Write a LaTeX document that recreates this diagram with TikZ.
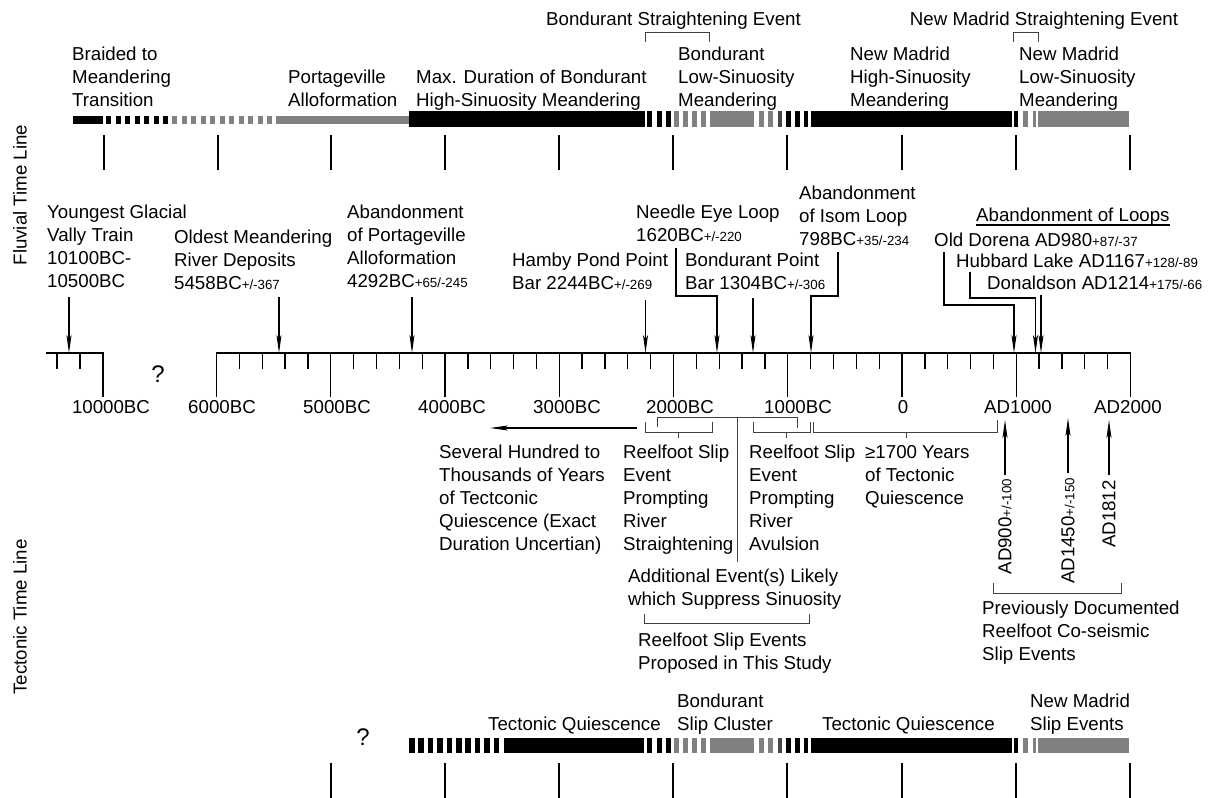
\documentclass[tikz,border=0pt]{standalone}
\usepackage{fontspec}
\setmainfont{Liberation Sans}
\usetikzlibrary{arrows.meta}
\newcommand{\smt}[1]{{\fontsize{13.3}{16}\selectfont #1}}
\newcommand{\ts}{\rule{0pt}{16.1pt}}
\definecolor{bargray}{RGB}{128,128,128}
\definecolor{midgray}{RGB}{70,70,70}
\begin{document}
\begin{tikzpicture}[x=1pt,y=-1pt,
 lbl/.style={anchor=north west,inner sep=0pt,align=left,font=\fontsize{18.7}{23}\selectfont},
 one/.style={anchor=base west,inner sep=0pt,font=\fontsize{18.7}{23}\selectfont},
 axl/.style={anchor=base,inner sep=0pt,font=\fontsize{18.7}{23}\selectfont},
 tick/.style={line width=1.3pt},
 brk/.style={line width=1pt,draw=black!75},
 arr/.style={line width=1.1pt,-{Stealth[length=18pt,width=5pt,inset=4pt]}},
 con/.style={line width=1.1pt},
 qm/.style={inner sep=0pt,font=\fontsize{24}{28}\selectfont},
 side/.style={rotate=90,inner sep=0pt,font=\fontsize{18.7}{23}\selectfont},
 vlab/.style={rotate=90,anchor=east,inner sep=0pt,font=\fontsize{18.7}{23}\selectfont}]
\useasboundingbox (0,0) rectangle (1227,798);

% ---------- side labels
\node[side] (fluv) at (20,195) {Fluvial Time Line};
\node[side] (tect) at (20,617) {Tectonic Time Line};

% ---------- top fluvial bar
\fill (73,116) rectangle (103,124);
\foreach \i in {0,...,6} \fill (106+9.5*\i,116) rectangle ++(5,8);
\foreach \i in {0,...,10} \fill[bargray] (172+9.5*\i,116) rectangle ++(5,8);
\fill[bargray] (276,116) rectangle (409,124);
\fill (409,111) rectangle (645,127);
\foreach \a/\b/\c in {647/652/black,656.5/661.5/black,666/671/black,
  674/678.5/bargray,683/687.5/bargray,692/696.5/bargray,701/705.5/bargray,
  710/754/bargray,759/763.5/bargray,768/772.5/bargray,777.5/782/midgray,
  786/790.5/black,795/799.5/black,803.5/808/black,811/1012/black,1013.5/1018/black,
  1023/1027.5/bargray,1032.5/1035.5/bargray,1038/1129/bargray}
  \fill[\c] (\a,111) rectangle (\b,127);
\foreach \x in {104,218,331,445,559,673,787,902,1016,1130} \draw[tick] (\x,135) -- (\x,170);

% top labels
\node[lbl] (braided) at (72,43.9) {\ts Braided to\\Meandering\\Transition};
\node[lbl] (portage) at (288,66.9) {\ts Portageville\\Alloformation};
\node[lbl] (maxdur) at (416,66.9) {\ts Max. Duration of Bondurant\\High-Sinuosity Meandering};
\node[lbl] (bondlow) at (678,43.9) {\ts Bondurant\\Low-Sinuosity\\Meandering};
\node[lbl] (nmhigh) at (850,43.9) {\ts New Madrid\\High-Sinuosity\\Meandering};
\node[lbl] (nmlow) at (1019,43.9) {\ts New Madrid\\Low-Sinuosity\\Meandering};
\node[axl] (bse) at (673.5,25) {Bondurant Straightening Event};
\node[axl] (nmse) at (1044,25) {New Madrid Straightening Event};
\coordinate (bseL) at (645,42); \coordinate (bseR) at (709,42);
\draw[brk] (bseL) -- ++(0,-10) -| (bseR);
\coordinate (nmseL) at (1013,42); \coordinate (nmseR) at (1038,42);
\draw[brk] (nmseL) -- ++(0,-10) -| (nmseR);

% ---------- main axis
\coordinate (la) at (46,353); \coordinate (lb) at (103,353);
\draw[tick] (la) -- (lb);
\draw[tick] (57,353) -- (57,369);
\draw[tick] (80,353) -- (80,369);
\draw[tick] (103,352.35) -- (103,397);
\node[qm] (q1) at (158,374) {?};
\coordinate (ma) at (216.5,353); \coordinate (mb) at (1130.5,353);
\draw[tick] (ma) -- (mb);
\foreach \k in {1,...,39} \draw[tick] (216.5+22.85*\k,353) -- ++(0,16);
\foreach \k in {0,...,8} \draw[tick] (216.5+114.25*\k,352.35) -- ++(0,44.65);

% axis labels
\node[axl] (t10k) at (111,413) {10000BC};
\node[axl] (t6k) at (222,413) {6000BC};
\node[axl] (t5k) at (337,413) {5000BC};
\node[axl] (t4k) at (452,413) {4000BC};
\node[axl] (t3k) at (567,413) {3000BC};
\node[axl] (t2k) at (680,413) {2000BC};
\node[axl] (t1k) at (798,413) {1000BC};
\node[axl] (t0) at (903,413) {0};
\node[axl] (tad1) at (1018,413) {AD1000};
\node[axl] (tad2) at (1128,413) {AD2000};

% ---------- fluvial annotations
\node[lbl] (ygv) at (47,201.9) {\ts Youngest Glacial\\Vally Train\\10100BC-\\10500BC};
\node[lbl] (omr) at (174,226.9) {\ts Oldest Meandering\\River Deposits\\5458BC\smt{+/-367}};
\node[lbl] (abp) at (347,201.9) {\ts Abandonment\\of Portageville\\Alloformation\\4292BC\smt{+65/-245}};
\node[lbl] (hpp) at (512,249.9) {\ts Hamby Pond Point\\Bar 2244BC\smt{+/-269}};
\node[lbl] (nel) at (636,201.9) {\ts Needle Eye Loop\\1620BC\smt{+/-220}};
\node[lbl] (bpb) at (685,249.9) {\ts Bondurant Point\\Bar 1304BC\smt{+/-306}};
\node[lbl] (ail) at (799,182.9) {\ts Abandonment\\of Isom Loop\\798BC\smt{+35/-234}};
\node[one] (loops) at (976,221) {Abandonment of Loops};
\draw[con] ([yshift=-4pt]loops.base west) -- ([yshift=-4pt]loops.base east);
\node[one] (od) at (934,246) {Old Dorena AD980\smt{+87/-37}};
\node[one] (hl) at (956,267) {Hubbard Lake AD1167\smt{+128/-89}};
\node[one] (dn) at (987,289) {Donaldson AD1214\smt{+175/-66}};

\coordinate (ygvA) at (69,297); \coordinate (ygvB) at (69,353);
\draw[arr] (ygvA) -- (ygvB);
\coordinate (omrA) at (279,297); \coordinate (omrB) at (279,353);
\draw[arr] (omrA) -- (omrB);
\coordinate (abpA) at (412,297); \coordinate (abpB) at (412,353);
\draw[arr] (abpA) -- (abpB);
\coordinate (hppA) at (645.5,300); \coordinate (hppB) at (645.5,353);
\draw[arr] (hppA) -- (hppB);
\coordinate (nelA) at (676,248); \coordinate (nelB) at (717,353);
\draw[arr] (nelA) -- (676,296) -| (nelB);
\coordinate (bpbA) at (753,298); \coordinate (bpbB) at (753,353);
\draw[arr] (bpbA) -- (bpbB);
\coordinate (ailA) at (838,252); \coordinate (ailB) at (811,353);
\draw[arr] (ailA) -- (838,296) -| (ailB);
\coordinate (odA) at (944,252); \coordinate (odB) at (1014,353);
\draw[arr] (odA) -- (944,305) -| (odB);
\coordinate (hlA) at (970,272); \coordinate (hlB) at (1035.5,353);
\draw[arr] (hlA) -- (970,298) -| (hlB);
\coordinate (dnA) at (1041,295); \coordinate (dnB) at (1041,353);
\draw[arr] (dnA) -- (dnB);

% ---------- tectonic annotations
\node[lbl] (shq) at (439,441.9) {\ts Several Hundred to\\Thousands of Years\\of Tectconic\\Quiescence (Exact\\Duration Uncertian)};
\node[lbl] (rfs1) at (623,441.9) {\ts Reelfoot Slip\\Event\\Prompting\\River\\Straightening};
\node[lbl] (rfs2) at (749,441.9) {\ts Reelfoot Slip\\Event\\Prompting\\River\\Avulsion};
\node[lbl] (q1700) at (865,441.9) {\ts ≥1700 Years\\of Tectonic\\Quiescence};
\node[lbl] (add) at (628,565.9) {\ts Additional Event(s) Likely\\which Suppress Sinuosity};
\node[lbl] (rse) at (638,629.9) {\ts Reelfoot Slip Events\\Proposed in This Study};
\node[lbl] (prev) at (982,597.9) {\ts Previously Documented\\Reelfoot Co-seismic\\Slip Events};

\coordinate (shA) at (637,428); \coordinate (shB) at (490,428);
\draw[arr] (shA) -- (shB);
% upper bracket with stem
\coordinate (ubL) at (657,427); \coordinate (ubR) at (797,428);
\draw[brk] (ubL) -- (657,417) -| (ubR);
\coordinate (stemA) at (737,417); \coordinate (stemB) at (737,562);
\draw[brk] (stemA) -- (stemB);
% lower brackets
\draw[brk] (645,422) -- (645,432) -| (712,422);
\draw[brk] (678,432) -- (678,438);
\draw[brk] (753,422) -- (753,432) -| (810,422);
\draw[brk] (786,432) -- (786,438);
\draw[brk] (813,422) -- (813,432) -| (997,420);
\draw[brk] (906,432) -- (906,438);
% bracket below Additional
\draw[brk] (644,614) -- (644,623) -| (809,614);

% upward arrows
\coordinate (e1A) at (1005,475); \coordinate (e1B) at (1005,420);
\draw[arr] (e1A) -- (e1B);
\coordinate (e2A) at (1068,473); \coordinate (e2B) at (1068,418);
\draw[arr] (e2A) -- (e2B);
\coordinate (e3A) at (1109,475); \coordinate (e3B) at (1109,420);
\draw[arr] (e3A) -- (e3B);
\node[vlab] (ad900) at (1005,479) {AD900\smt{+/-100}};
\node[vlab] (ad1450) at (1068,478) {AD1450\smt{+/-150}};
\node[vlab] (ad1812) at (1109,480) {AD1812};
\draw[brk] (993,583) -- (993,593) -| (1121,583);

% ---------- bottom tectonic bar
\node[qm] (q2) at (363,737) {?};
\foreach \i in {0,...,9} \fill (409+9.4*\i,738) rectangle ++(5.5,15);
\fill (504,738) rectangle (644,753);
\foreach \a/\b/\c in {647/652/black,656.5/661.5/black,666/671/black,
  674/678.5/bargray,683/687.5/bargray,692/696.5/bargray,701/705.5/bargray,
  710/754/bargray,759/763.5/bargray,768/772.5/bargray,777.5/782/midgray,
  786/790.5/black,795/799.5/black,803.5/808/black,811/1012/black,1013.5/1018/black,
  1023/1027.5/bargray,1032.5/1035.5/bargray,1038/1129/bargray}
  \fill[\c] (\a,738) rectangle (\b,753);
\foreach \x in {331,445,559,673,787,902,1016,1130} \draw[tick] (\x,763) -- (\x,798);
\node[one] (tq1) at (488,730) {Tectonic Quiescence};
\node[lbl] (bsc) at (677,690.9) {\ts Bondurant\\Slip Cluster};
\node[one] (tq2) at (822,730) {Tectonic Quiescence};
\node[lbl] (nmsl) at (1030,690.9) {\ts New Madrid\\Slip Events};
\end{tikzpicture}
\end{document}
